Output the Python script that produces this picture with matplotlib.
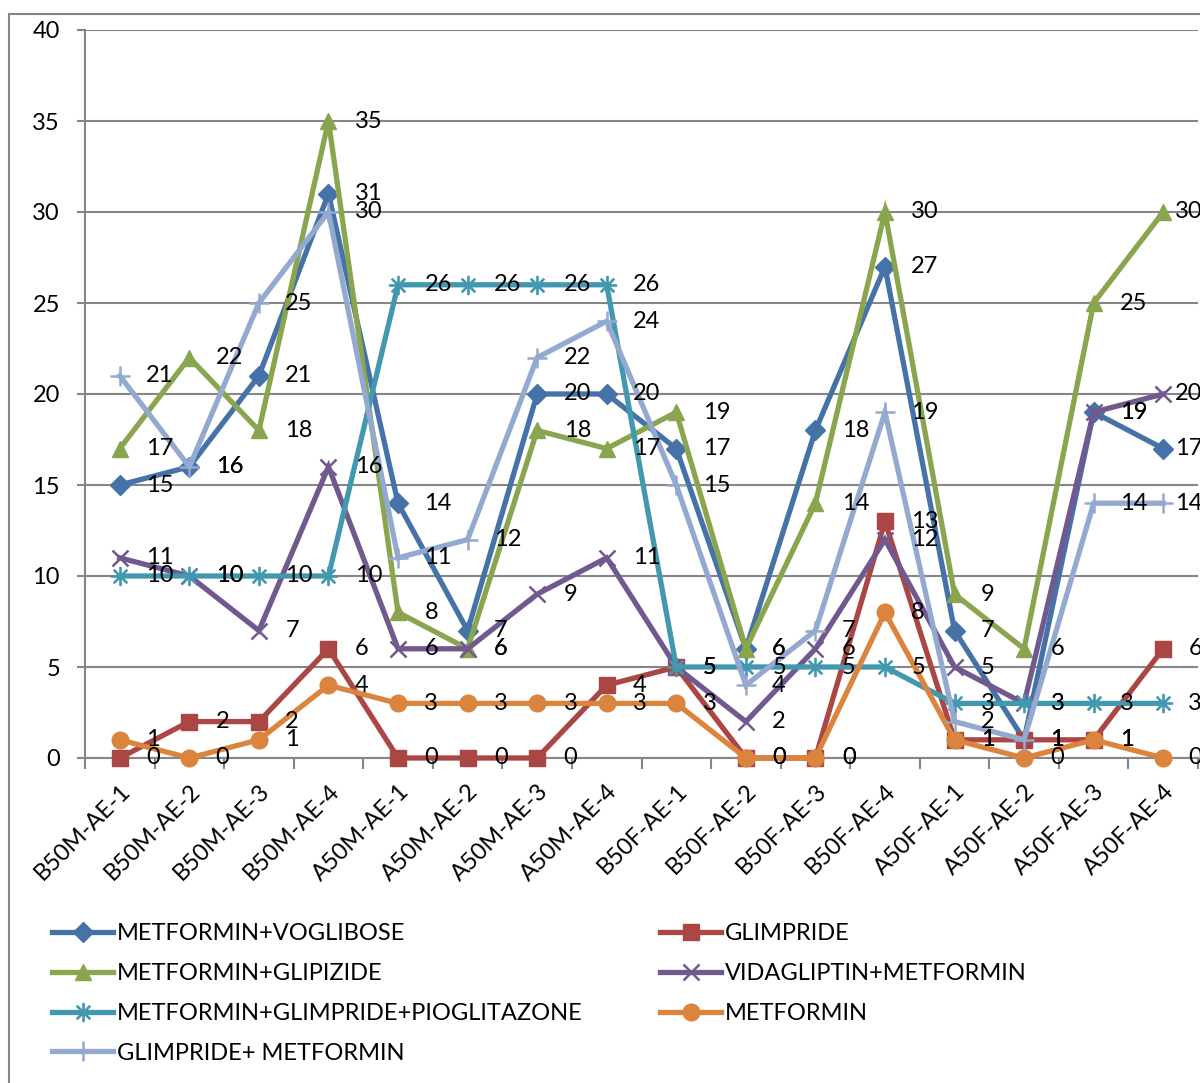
import matplotlib
matplotlib.use("Agg")
import matplotlib.pyplot as plt
from matplotlib.lines import Line2D
import numpy as np

plt.rcParams['font.family'] = ['Lato', 'DejaVu Sans']

groups = ["B50M-AE-1", "B50M-AE-2", "B50M-AE-3", "B50M-AE-4",
          "A50M-AE-1", "A50M-AE-2", "A50M-AE-3", "A50M-AE-4",
          "B50F-AE-1", "B50F-AE-2", "B50F-AE-3", "B50F-AE-4",
          "A50F-AE-1", "A50F-AE-2", "A50F-AE-3", "A50F-AE-4"]

met_vog = [15, 16, 21, 31, 14, 7, 20, 20, 17, 6, 18, 27, 7, 1, 19, 17]
glimpride = [0, 2, 2, 6, 0, 0, 0, 4, 5, 0, 0, 13, 1, 1, 1, 6]
met_glip = [17, 22, 18, 35, 8, 6, 18, 17, 19, 6, 14, 30, 9, 6, 25, 30]
vida_met = [11, 10, 7, 16, 6, 6, 9, 11, 5, 2, 6, 12, 5, 3, 19, 20]
met_glim_pio = [10, 10, 10, 10, 26, 26, 26, 26, 5, 5, 5, 5, 3, 3, 3, 3]
metformin = [1, 0, 1, 4, 3, 3, 3, 3, 3, 0, 0, 8, 1, 0, 1, 0]
glim_met = [21, 16, 25, 30, 11, 12, 22, 24, 15, 4, 7, 19, 2, 1, 14, 14]

series = [
    ("METFORMIN+VOGLIBOSE", met_vog, "#4572A7", "D", 10),
    ("GLIMPRIDE", glimpride, "#AA4643", "s", 11),
    ("METFORMIN+GLIPIZIDE", met_glip, "#89A54E", "^", 12),
    ("VIDAGLIPTIN+METFORMIN", vida_met, "#71588F", "x", 12),
    ("METFORMIN+GLIMPRIDE+PIOGLITAZONE", met_glim_pio, "#4198AF", "$\u2733$", 13),
    ("METFORMIN", metformin, "#DB843D", "o", 12),
    ("GLIMPRIDE+ METFORMIN", glim_met, "#93A9CF", "+", 14),
]

FS = 17

fig = plt.figure(figsize=(12, 10.83), dpi=100)
ax = fig.add_axes([85 / 1200, 1 - 758 / 1083, 1113 / 1200, 728 / 1083])

x = np.arange(len(groups))
last = len(groups) - 1
handles = {}
for name, vals, col, mk, ms in series:
    ln, = ax.plot(x, vals, color=col, lw=3.8, marker=mk, markersize=ms,
                  markeredgewidth=1.8 if mk in ("x", "+") else 1,
                  markeredgecolor=col, markerfacecolor=col,
                  solid_joinstyle="miter", clip_on=False, zorder=3)
    handles[name] = ln
    for xi, v in zip(x, vals):
        if xi == last:
            # labels at the right edge are pushed back inside the frame
            off, ha = (28, 0), "right"
        else:
            off, ha = (19, 0), "left"
        ax.annotate(str(v), (xi, v), xytext=off, textcoords="offset points",
                    ha=ha, va="center", fontsize=FS, color="black",
                    annotation_clip=False, zorder=5)

ax.set_xlim(-0.5, len(groups) - 0.5)
ax.set_ylim(0, 40)
ax.set_yticks(range(0, 41, 5))
ax.tick_params(axis="y", labelsize=FS, length=6, width=1.5, color="#868686", pad=12)
ax.yaxis.grid(True, color="#868686", lw=1.5)
ax.set_axisbelow(True)

ax.set_xticks(x)
ax.set_xticklabels(groups, rotation=45, ha="right", rotation_mode="anchor", fontsize=FS)
ax.set_xticks(np.arange(-0.5, len(groups), 1), minor=True)
ax.tick_params(axis="x", which="major", length=0, pad=16)
ax.tick_params(axis="x", which="minor", length=8, width=1.5, color="#868686")

for s in ["top", "right"]:
    ax.spines[s].set_visible(False)
for s in ["left", "bottom"]:
    ax.spines[s].set_color("#868686")
    ax.spines[s].set_linewidth(1.5)

# chart border
fig.add_artist(Line2D([9 / 1200, 9 / 1200], [1 - 14 / 1083, -0.05],
                      transform=fig.transFigure, color="#868686", lw=1.5))
fig.add_artist(Line2D([9 / 1200, 1.05], [1 - 14 / 1083, 1 - 14 / 1083],
                      transform=fig.transFigure, color="#868686", lw=1.5))

# two legend columns placed separately
left_col = ["METFORMIN+VOGLIBOSE", "METFORMIN+GLIPIZIDE",
            "METFORMIN+GLIMPRIDE+PIOGLITAZONE", "GLIMPRIDE+ METFORMIN"]
right_col = ["GLIMPRIDE", "VIDAGLIPTIN+METFORMIN", "METFORMIN"]
leg_kw = dict(frameon=False, loc="upper left", fontsize=FS, handlelength=2.6,
              handletextpad=0.15, labelspacing=0.8, borderaxespad=0, borderpad=0)
fig.legend([handles[n] for n in left_col], left_col,
           bbox_to_anchor=(52 / 1200, 1 - 923 / 1083), **leg_kw)
fig.legend([handles[n] for n in right_col], right_col,
           bbox_to_anchor=(660 / 1200, 1 - 923 / 1083), **leg_kw)

fig.savefig("out.png", dpi=100)
